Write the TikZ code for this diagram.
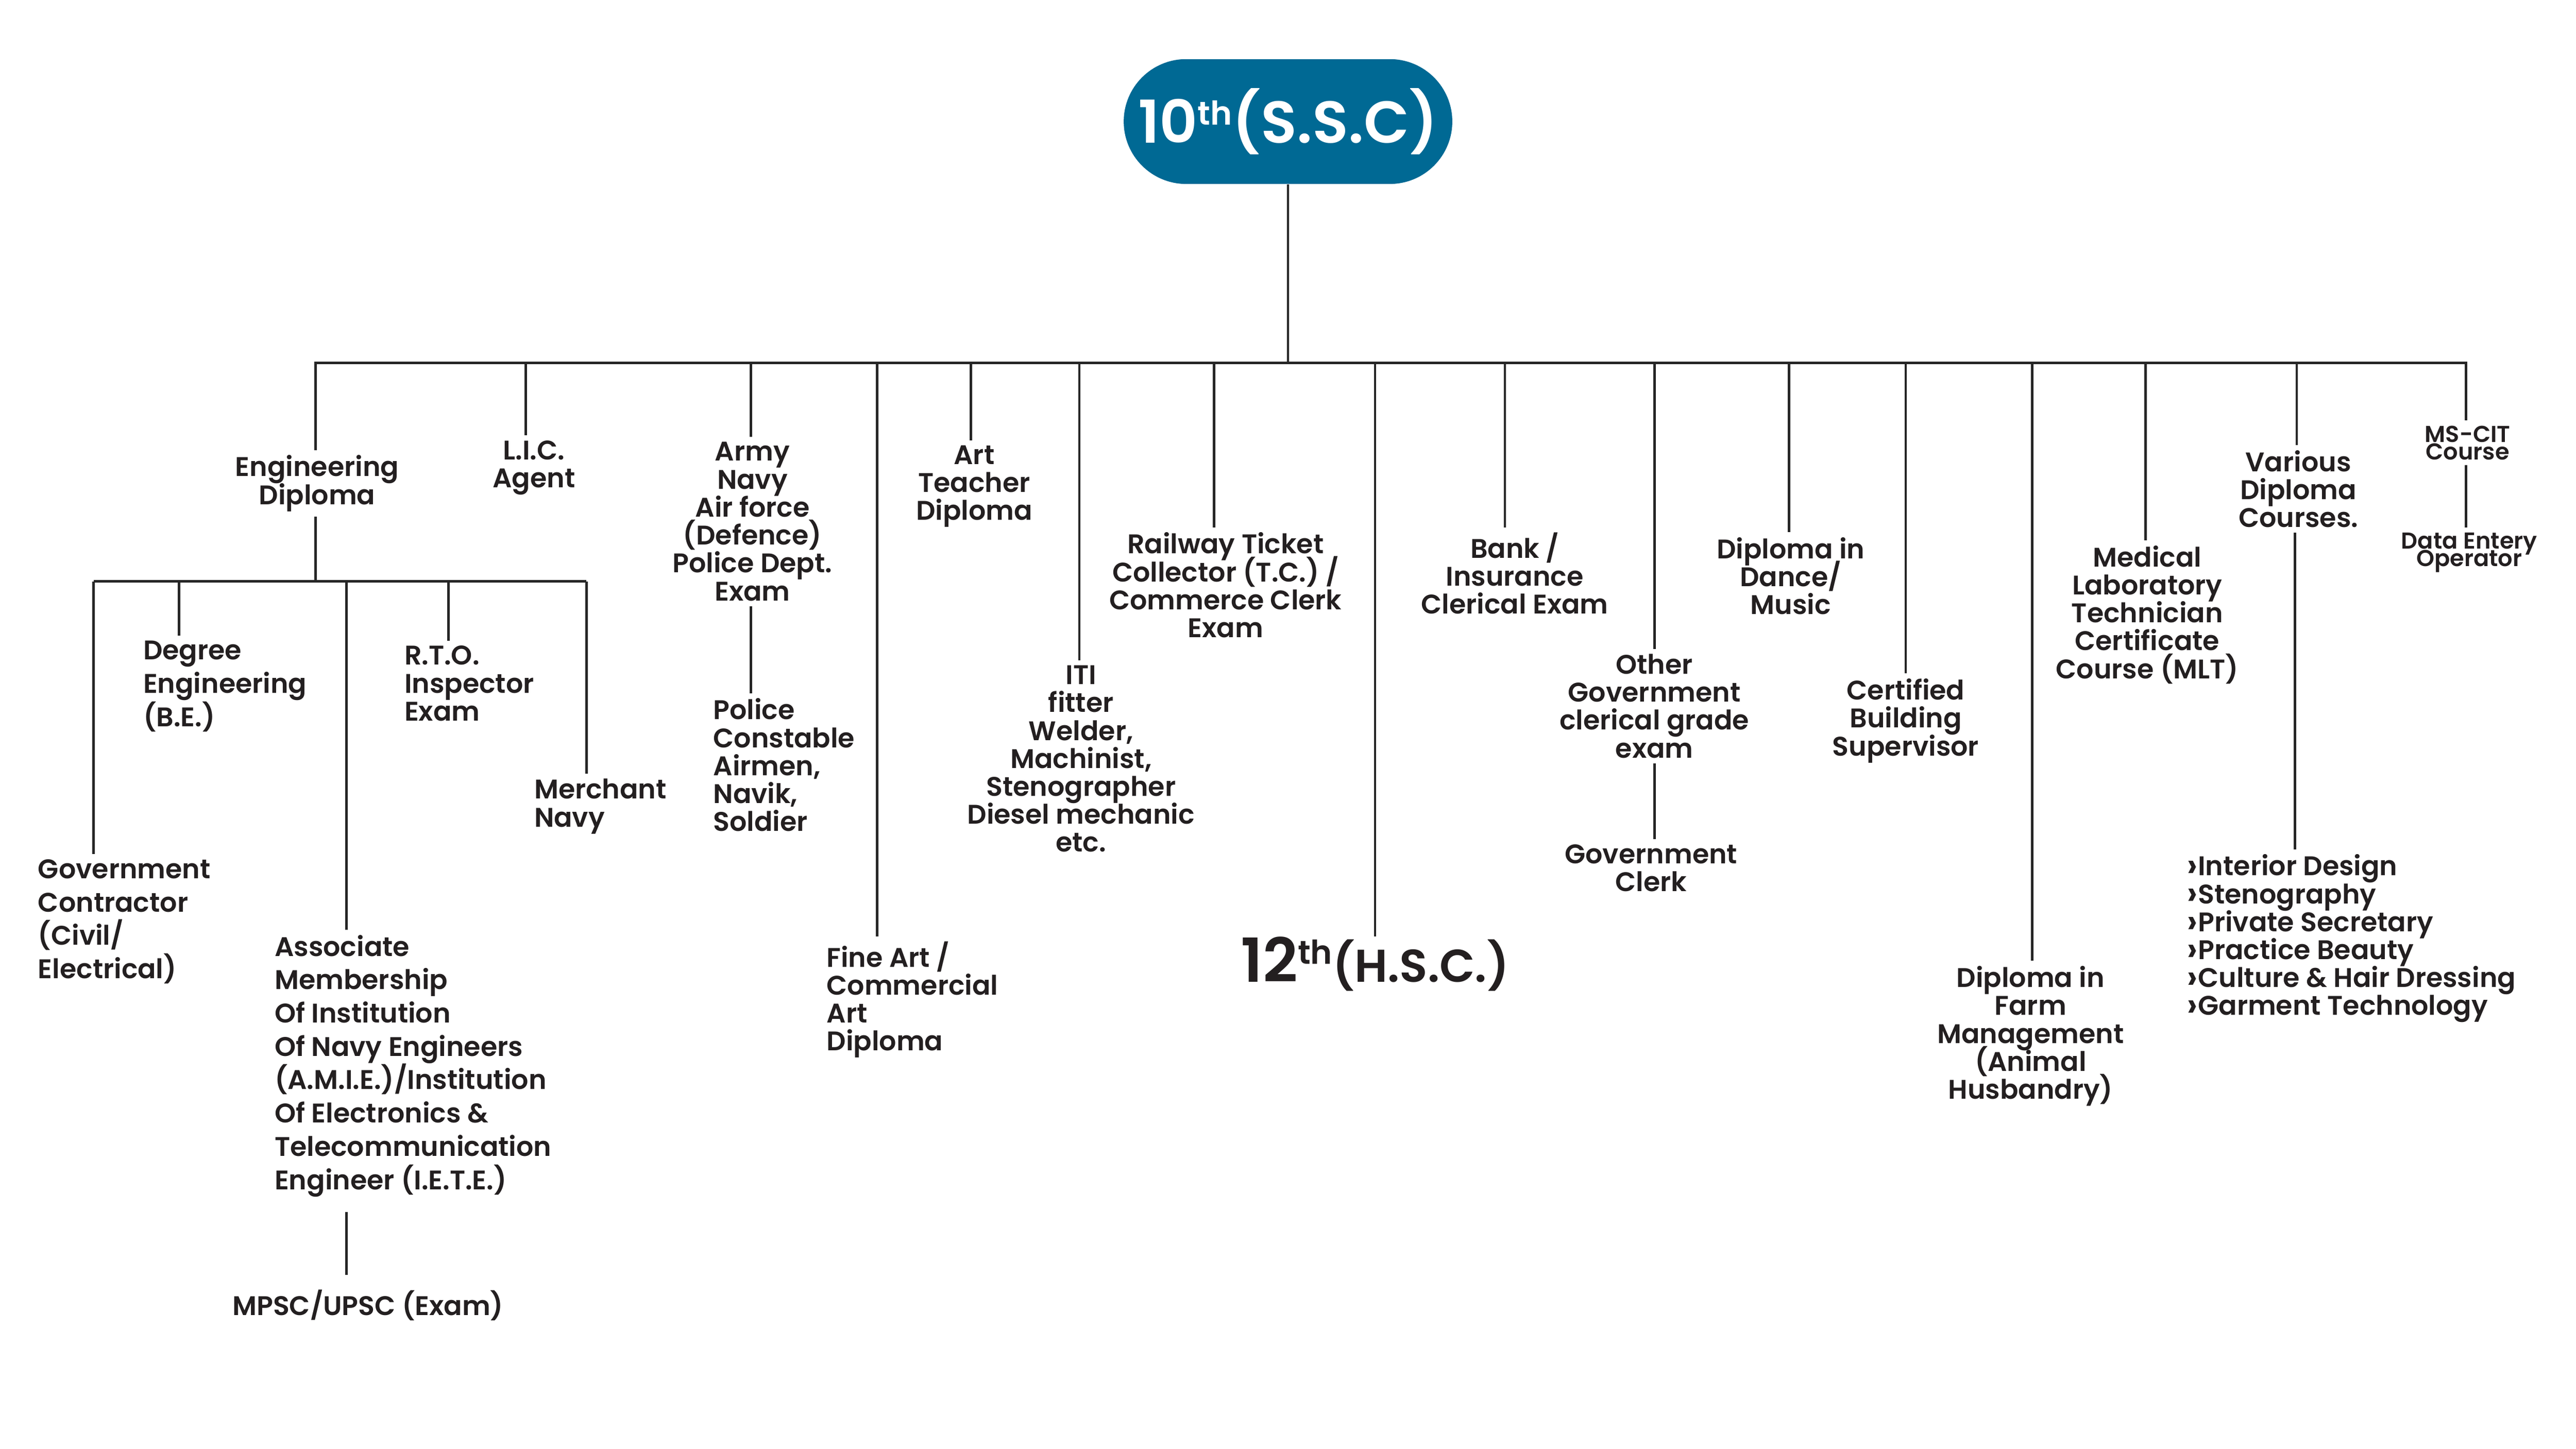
\documentclass[tikz,border=0pt]{standalone}
\usepackage{fontspec}
\usepackage{graphicx}
\setmainfont{Poppins}[UprightFont=* SemiBold, BoldFont=* Bold]
\definecolor{pillc}{RGB}{0,105,148}
\definecolor{txt}{RGB}{35,31,32}
\definecolor{lc}{RGB}{38,38,38}
\newcommand{\fsn}{\fontsize{16.4}{17}\selectfont\lineskiplimit=-50pt\lineskip=0pt}
\newcommand{\fsw}{\fontsize{16.4}{20.3}\selectfont\lineskiplimit=-50pt\lineskip=0pt}
\newcommand{\fss}{\fontsize{14}{10.8}\selectfont\lineskiplimit=-50pt\lineskip=0pt}
\newcommand{\chev}{\raisebox{-1.2pt}{\scalebox{1.3}{›}}}
\begin{document}
\begin{tikzpicture}[x=1pt,y=-1pt,
  lbl/.style={font=\fsn, align=center, inner sep=3pt, text=txt},
  lblL/.style={lbl, align=left},
  wide/.style={font=\fsw},
  small/.style={font=\fss},
  ln/.style={draw=lc, line width=1.5pt},
  big/.style={inner sep=0pt}]
\useasboundingbox (0,0) rectangle (1568,882);

% root
\node[fill=pillc, rounded corners=38pt, minimum width=200pt, minimum height=76pt, inner sep=0pt, text=white] (ssc) at (784,74)
  {\fontsize{36}{36}\selectfont 10\raisebox{11pt}{\fontsize{20}{20}\selectfont th}(S.S.C)};

% bus coordinates
\coordinate (b1) at (192,221);
\coordinate (b2) at (320,221);
\coordinate (b3) at (457,221);
\coordinate (b4) at (534,221);
\coordinate (b5) at (591,221);
\coordinate (b6) at (657,221);
\coordinate (b7) at (739,221);
\coordinate (b8) at (837,221);
\coordinate (b9) at (916,221);
\coordinate (b10) at (1007,221);
\coordinate (b11) at (1089,221);
\coordinate (b12) at (1160,221);
\coordinate (b13) at (1237,221);
\coordinate (b14) at (1306,221);
\coordinate (b15) at (1398,221);
\coordinate (b16) at (1501,221);

% sub bus
\coordinate (s1) at (57,354);
\coordinate (s2) at (109,354);
\coordinate (s3) at (211,354);
\coordinate (s4) at (273,354);
\coordinate (s5) at (357,354);

% labels
\node[lbl, anchor=north] (eng) at (193,274) {Engineering\\Diploma};
\node[lbl, anchor=north] (lic) at (325,265) {L.I.C.\\Agent};
\node[lbl, anchor=north] (army) at (458,266) {Army\\Navy\\Air force\\(Defence)\\Police Dept.\\Exam};
\node[lblL, anchor=north west] (pc) at (431,422) {Police\\Constable\\Airmen,\\Navik,\\Soldier};
\node[lblL, anchor=north west] (fine) at (500,570) {Fine Art /\\Commercial\\Art\\Diploma};
\node[lbl, anchor=north] (artt) at (593,268) {Art\\Teacher\\Diploma};
\node[lbl, anchor=north] (iti) at (658,402) {ITI\\fitter\\Welder,\\Machinist,\\Stenographer\\Diesel mechanic\\etc.};
\node[lbl, anchor=north] (rail) at (746,321) {Railway Ticket\\Collector (T.C.) /\\Commerce Clerk\\Exam};
\node[big, text=txt] (hsc) at (837,587) {\fontsize{37}{37}\selectfont 12\raisebox{11pt}{\fontsize{20}{20}\selectfont th}\fontsize{28}{28}\selectfont(H.S.C.)};
\node[lbl, anchor=north] (bank) at (922,321) {Bank /\\Insurance\\Clerical Exam};
\node[lbl, anchor=north] (other) at (1007,395) {Other\\Government\\clerical grade\\exam};
\node[lbl, anchor=north] (gclerk) at (1005,511) {Government\\Clerk};
\node[lbl, anchor=north] (dance) at (1090,324) {Diploma in\\Dance/\\Music};
\node[lbl, anchor=north] (cert) at (1160,410) {Certified\\Building\\Supervisor};
\node[lbl, anchor=north] (farm) at (1236,585) {Diploma in\\Farm\\Management\\(Animal\\Husbandry)};
\node[lbl, anchor=north] (mlt) at (1307,329) {Medical\\Laboratory\\Technician\\Certificate\\Course (MLT)};
\node[lbl, anchor=north] (various) at (1399,271) {Various\\Diploma\\Courses.};
\node[lblL, anchor=north west] (list) at (1328,517) {\chev Interior Design\\\chev Stenography\\\chev Private Secretary\\\chev Practice Beauty\\\chev Culture \& Hair Dressing\\\chev Garment Technology};
\node[lbl, small, anchor=north] (mscit) at (1502,256) {MS-CIT\\Course};
\node[lbl, small, anchor=north] (deo) at (1503,321) {Data Entery\\Operator};

% left subtree labels
\node[lblL, wide, anchor=north west] (gov) at (20,520) {Government\\Contractor\\(Civil/\\Electrical)};
\node[lblL, wide, anchor=north west] (deg) at (84,387) {Degree\\Engineering\\(B.E.)};
\node[lblL, wide, anchor=north west] (assoc) at (164,566) {Associate\\Membership\\Of Institution\\Of Navy Engineers\\(A.M.I.E.)/Institution\\Of Electronics \&\\Telecommunication\\Engineer (I.E.T.E.)};
\node[lbl, anchor=north] (mpsc) at (224,782) {MPSC/UPSC (Exam)};
\node[lblL, anchor=north west] (rto) at (243,390) {R.T.O.\\Inspector\\Exam};
\node[lblL, anchor=north west] (merch) at (322,471) {Merchant\\Navy};

% connectors
\draw[ln] (ssc.south) -- (ssc.south |- b1);
\draw[ln, line cap=rect] (b1) -- (b16);
\draw[ln] (b1) -- (b1 |- eng.north);
\draw[ln] (b2) -- (b2 |- lic.north);
\draw[ln] (b3) -- (b3 |- army.north);
\draw[ln] (b4) -- (b4 |- fine.north);
\draw[ln] (b5) -- (b5 |- artt.north);
\draw[ln] (b6) -- (b6 |- iti.north);
\draw[ln] (b7) -- (b7 |- rail.north);
\draw[ln] (b8) -- (b8 |- hsc.north);
\draw[ln] (b9) -- (b9 |- bank.north);
\draw[ln] (b10) -- (b10 |- other.north);
\draw[ln] (b11) -- (b11 |- dance.north);
\draw[ln] (b12) -- (b12 |- cert.north);
\draw[ln] (b13) -- (b13 |- farm.north);
\draw[ln] (b14) -- (b14 |- mlt.north);
\draw[ln] (b15) -- (b15 |- various.north);
\draw[ln] (b16) -- (b16 |- mscit.north);

\draw[ln] (b3 |- army.south) -- (b3 |- pc.north);
\draw[ln] (b10 |- other.south) -- (b10 |- gclerk.north);
\draw[ln] ([xshift=-1pt]b15 |- various.south) -- ([xshift=-1pt]b15 |- list.north);
\draw[ln] (b16 |- mscit.south) -- (b16 |- deo.north);

\draw[ln] (b1 |- eng.south) -- (b1 |- s1);
\draw[ln] (s1) -- (s5);
\draw[ln] (s1) -- (s1 |- gov.north);
\draw[ln] (s2) -- (s2 |- deg.north);
\draw[ln] (s3) -- (s3 |- assoc.north);
\draw[ln] (s4) -- (s4 |- rto.north);
\draw[ln] (s5) -- (s5 |- merch.north);
\draw[ln, shorten <=6pt, shorten >=6pt] (s3 |- assoc.south) -- (s3 |- mpsc.north);
\end{tikzpicture}
\end{document}
